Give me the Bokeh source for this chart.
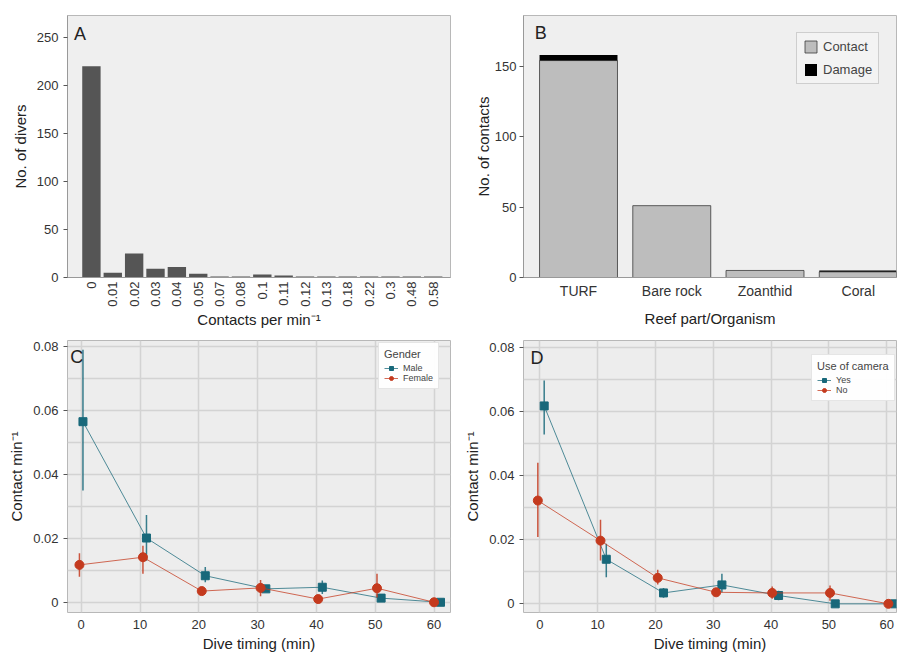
import math
from bokeh.plotting import figure
from bokeh.layouts import column, row
from bokeh.models import (ColumnDataSource, Range1d, FixedTicker, Label, Legend, LegendItem)
from bokeh.embed import file_html
from bokeh.resources import INLINE

FONT = "Liberation Sans"

# ---------------- Data ----------------
# Panel A
rate_labels = ["0", "0.01", "0.02", "0.03", "0.04", "0.05", "0.07", "0.08", "0.1",
               "0.11", "0.12", "0.13", "0.18", "0.22", "0.3", "0.48", "0.58"]
divers = [220, 5, 25, 9, 11, 4, 1, 1, 3, 2, 1, 1, 1, 1, 1, 1, 1]

# Panel B
reef = ["TURF", "Bare rock", "Zoanthid", "Coral"]
contact = [154, 51, 5, 4]
damage = [4, 0, 0, 1]

# Panel C
male_x = [0.3, 11.1, 21.1, 31.4, 41.0, 51.0, 61.1]
male_mean = [0.0565, 0.0201, 0.0083, 0.0042, 0.0047, 0.0013, 0.0]
male_lo = [0.035, 0.013, 0.0063, 0.0032, 0.0026, 0.0006, 0.0]
male_hi = [0.079, 0.0273, 0.011, 0.0052, 0.0068, 0.002, 0.0]
female_x = [-0.3, 10.5, 20.5, 30.5, 40.3, 50.3, 60.0]
female_mean = [0.0117, 0.0141, 0.0035, 0.0045, 0.0010, 0.0044, 0.0]
female_lo = [0.008, 0.0089, 0.0023, 0.0019, 0.0005, 0.0015, 0.0]
female_hi = [0.0153, 0.0177, 0.0047, 0.007, 0.0015, 0.0089, 0.0]

# Panel D
yes_x = [0.76, 11.5, 21.4, 31.5, 41.3, 51.1, 61.4]
yes_mean = [0.0617, 0.0139, 0.0034, 0.0059, 0.0026, 0.0, 0.0]
yes_lo = [0.0528, 0.0083, 0.0019, 0.0036, 0.0011, 0.0, 0.0]
yes_hi = [0.0696, 0.0187, 0.0049, 0.0094, 0.0041, 0.0, 0.0]
no_x = [-0.34, 10.5, 20.4, 30.5, 40.2, 50.2, 60.3]
no_mean = [0.0322, 0.0197, 0.0081, 0.0036, 0.0034, 0.0034, 0.0]
no_lo = [0.0208, 0.0135, 0.006, 0.0028, 0.0016, 0.001, 0.0]
no_hi = [0.044, 0.0262, 0.0106, 0.0045, 0.0054, 0.0057, 0.0]

time_ticks = [0, 10, 20, 30, 40, 50, 60]
rate_ticks = [0, 0.02, 0.04, 0.06, 0.08]
rate_minor = [0.01, 0.03, 0.05, 0.07]

TEAL = "#18687a"
RED = "#c43a1e"


def base_style(p, bg):
    p.background_fill_color = bg
    p.border_fill_color = "white"
    p.outline_line_color = "#b8b8b8"
    for ax in (p.xaxis[0], p.yaxis[0]):
        ax.axis_label_text_font = FONT
        ax.axis_label_text_font_style = "normal"
        ax.axis_label_text_color = "#222222"
        ax.major_label_text_font = FONT
        ax.major_label_text_color = "#333333"
        ax.minor_tick_line_color = None
        ax.axis_line_color = "#999999"
        ax.major_tick_line_color = "#555555"
        ax.major_tick_out = 4
        ax.major_tick_in = 0


# ---------------- Panel A ----------------
pA = figure(width=452, height=330, x_range=Range1d(-1.12, 16.81), y_range=Range1d(0, 273),
            output_backend="svg", toolbar_location=None,
            min_border_left=67, min_border_right=2, min_border_top=15, min_border_bottom=53)
base_style(pA, "#efefef")
srcA = ColumnDataSource(dict(x=list(range(len(rate_labels))), top=divers))
pA.vbar(x="x", top="top", width=0.86, source=srcA, fill_color="#555555", line_color=None)
pA.grid.visible = False
pA.xaxis.ticker = FixedTicker(ticks=list(range(len(rate_labels))))
pA.xaxis.major_label_overrides = {i: l for i, l in enumerate(rate_labels)}
pA.xaxis.major_label_orientation = math.pi / 2
pA.xaxis.major_tick_line_color = None
pA.xaxis.major_tick_out = 0
pA.xaxis.major_label_standoff = 4
pA.xaxis.major_label_text_font_size = "13px"
pA.xaxis.axis_label = "Contacts per min\u207b\u00b9"
pA.xaxis.axis_label_text_font_size = "15px"
pA.xaxis.axis_label_standoff = 1
pA.yaxis.ticker = FixedTicker(ticks=[0, 50, 100, 150, 200, 250])
pA.yaxis.major_label_text_font_size = "13px"
pA.yaxis.axis_label = "No. of divers"
pA.yaxis.axis_label_text_font_size = "15px"
pA.add_layout(Label(x=-0.82, y=264, text="A", text_font=FONT, text_font_size="18px",
                    text_baseline="top", text_color="#222222"))

# ---------------- Panel B ----------------
pB = figure(width=445, height=330, x_range=Range1d(-0.59, 3.41), y_range=Range1d(0, 186),
            output_backend="svg", toolbar_location=None,
            min_border_left=71, min_border_right=1, min_border_top=15, min_border_bottom=53)
base_style(pB, "#efefef")
srcB = ColumnDataSource(dict(x=list(range(len(reef))), contact=contact,
                             total=[c + d for c, d in zip(contact, damage)]))
rc = pB.vbar(x="x", top="contact", bottom=0, width=0.836, source=srcB,
             fill_color="#bdbdbd", line_color="#3a3a3a", line_width=0.8)
rd = pB.vbar(x="x", top="total", bottom="contact", width=0.836, source=srcB,
             fill_color="#000000", line_color=None)
pB.grid.visible = False
pB.xaxis.ticker = FixedTicker(ticks=list(range(len(reef))))
pB.xaxis.major_label_overrides = {i: l for i, l in enumerate(reef)}
pB.xaxis.major_tick_line_color = None
pB.xaxis.major_tick_out = 0
pB.xaxis.major_label_standoff = 5
pB.xaxis.major_label_text_font_size = "14px"
pB.xaxis.axis_label = "Reef part/Organism"
pB.xaxis.axis_label_text_font_size = "15px"
pB.xaxis.axis_label_standoff = 8
pB.yaxis.ticker = FixedTicker(ticks=[0, 50, 100, 150])
pB.yaxis.major_label_text_font_size = "13px"
pB.yaxis.major_label_standoff = 3
pB.yaxis.axis_label = "No. of contacts"
pB.yaxis.axis_label_text_font_size = "15px"
pB.yaxis.axis_label_standoff = 0
legB = Legend(items=[LegendItem(label="Contact", renderers=[rc]),
                     LegendItem(label="Damage", renderers=[rd])],
              location=(273, 193))
legB.label_text_font = FONT
legB.label_text_font_size = "13px"
legB.background_fill_color = "#f2f2f2"
legB.border_line_color = "#aaaaaa"
legB.glyph_width = 15
legB.glyph_height = 15
legB.label_height = 15
legB.spacing = 8
legB.padding = 6
pB.add_layout(legB)
pB.add_layout(Label(x=-0.47, y=181, text="B", text_font=FONT, text_font_size="18px",
                    text_baseline="top", text_color="#222222"))


# ---------------- Panels C & D ----------------
def time_panel(width, min_left, min_right, xr, yr):
    p = figure(width=width, height=324, x_range=Range1d(*xr), y_range=Range1d(*yr),
               output_backend="svg", toolbar_location=None,
               min_border_left=min_left, min_border_right=min_right,
               min_border_top=10, min_border_bottom=42)
    base_style(p, "#ededed")
    p.xaxis.ticker = FixedTicker(ticks=time_ticks)
    p.yaxis.ticker = FixedTicker(ticks=rate_ticks, minor_ticks=rate_minor)
    p.yaxis.major_label_overrides = {0: "0", 0.02: "0.02", 0.04: "0.04", 0.06: "0.06", 0.08: "0.08"}
    p.xgrid.grid_line_color = "#d3d3d3"
    p.xgrid.grid_line_width = 1.5
    p.ygrid.grid_line_color = "#d3d3d3"
    p.ygrid.grid_line_width = 1.5
    p.ygrid.minor_grid_line_color = "#d3d3d3"
    p.ygrid.minor_grid_line_width = 1.5
    p.xaxis.major_tick_line_color = None
    p.xaxis.major_tick_out = 0
    p.xaxis.major_label_standoff = 7
    p.xaxis.axis_line_color = None
    p.yaxis.axis_line_color = None
    p.xaxis.major_label_text_font_size = "13px"
    p.yaxis.major_label_text_font_size = "13px"
    p.xaxis.axis_label = "Dive timing (min)"
    p.yaxis.axis_label = "Contact min\u207b\u00b9"
    p.xaxis.axis_label_text_font_size = "15px"
    p.yaxis.axis_label_text_font_size = "15px"
    p.xaxis.axis_label_standoff = 3
    return p


def add_series(p, xs, mean, lo, hi, color, marker, size):
    src = ColumnDataSource(dict(x=xs, y=mean, lo=lo, hi=hi))
    ln = p.line("x", "y", source=src, line_color=color, line_width=1, line_alpha=0.75)
    p.segment(x0="x", y0="lo", x1="x", y1="hi", source=src, line_color=color,
              line_width=1.5, line_alpha=0.85)
    pts = p.scatter("x", "y", source=src, marker=marker, size=size, fill_color=color,
                    line_color=color)
    return [ln, pts]


def style_legend(leg):
    leg.title_text_font = FONT
    leg.title_text_font_size = "11px"
    leg.title_text_font_style = "normal"
    leg.label_text_font = FONT
    leg.label_text_font_size = "9px"
    leg.label_height = 9
    leg.glyph_height = 10
    leg.glyph_width = 14
    leg.spacing = 0
    leg.padding = 5
    leg.title_standoff = 3
    leg.background_fill_color = "white"
    leg.border_line_color = "#cccccc"


pC = time_panel(452, 67, 2, (-2.33, 62.8), (-0.0032, 0.0819))
m = add_series(pC, male_x, male_mean, male_lo, male_hi, TEAL, "square", 8)
f = add_series(pC, female_x, female_mean, female_lo, female_hi, RED, "circle", 9)
legC = Legend(items=[LegendItem(label="Male", renderers=m),
                     LegendItem(label="Female", renderers=f)],
              title="Gender", location=(311, 223))
style_legend(legC)
pC.add_layout(legC)
pC.add_layout(Label(x=-1.85, y=0.0800, text="C", text_font=FONT, text_font_size="18px",
                    text_baseline="top", text_color="#222222"))

pD = time_panel(445, 71, 1, (-2.82, 61.7), (-0.0027, 0.0821))
y = add_series(pD, yes_x, yes_mean, yes_lo, yes_hi, TEAL, "square", 8)
n = add_series(pD, no_x, no_mean, no_lo, no_hi, RED, "circle", 9)
legD = Legend(items=[LegendItem(label="Yes", renderers=y),
                     LegendItem(label="No", renderers=n)],
              title="Use of camera", location=(288, 211))
style_legend(legD)
pD.add_layout(legD)
pD.add_layout(Label(x=-1.6, y=0.0797, text="D", text_font=FONT, text_font_size="18px",
                    text_baseline="top", text_color="#222222"))

layout = column(row(pA, pB), row(pC, pD))
open("out.html", "w").write(file_html(layout, INLINE))
